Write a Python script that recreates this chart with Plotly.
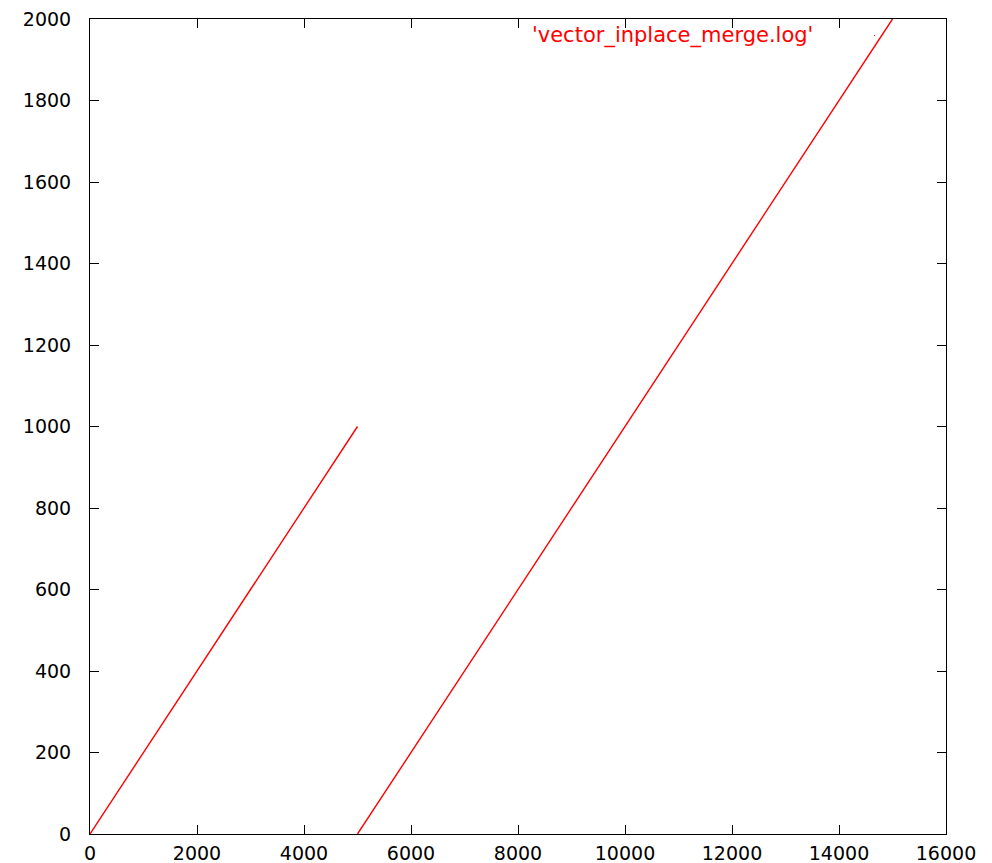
import plotly.graph_objects as go

# data
seg1_x = [0, 5000]
seg1_y = [0, 1000]
seg2_x = [5000, 15000]
seg2_y = [0, 2000]
series_name = "'vector_inplace_merge.log'"
x_ticks = list(range(0, 16001, 2000))
x_tick_labels = [str(v) for v in x_ticks]
y_ticks = list(range(0, 2001, 200))
y_tick_labels = [str(v) for v in y_ticks]

x_vals = seg1_x + [None] + seg2_x
y_vals = seg1_y + [None] + seg2_y

fig = go.Figure()
fig.add_trace(go.Scatter(x=x_vals, y=y_vals, mode="lines", name=series_name,
                         line=dict(color="#ff0000", width=1.4), showlegend=False,
                         connectgaps=False, cliponaxis=False))

font = dict(family="DejaVu Sans", size=19, color="black")
axis_common = dict(showline=True, linecolor="black", linewidth=1, mirror="ticks",
                   ticks="inside", ticklen=9, tickcolor="black", tickwidth=1,
                   showgrid=False, zeroline=False, tickfont=font, automargin=False)

fig.update_layout(
    width=992, height=863,
    margin=dict(l=90, r=46, t=19, b=29),
    paper_bgcolor="white", plot_bgcolor="white",
    xaxis=dict(range=[0, 16000], tickvals=x_ticks, ticktext=x_tick_labels, ticklabelstandoff=2, **axis_common),
    yaxis=dict(range=[0, 2000], tickvals=y_ticks, ticktext=y_tick_labels, ticklabelstandoff=14, **axis_common),
    annotations=[dict(text=series_name, x=(815 - 90) / 856, y=(834 - 36) / 815,
                      xref="paper", yref="paper", xanchor="right", yanchor="middle",
                      showarrow=False, font=dict(family="DejaVu Sans", size=21, color="#ff0000"))],
    shapes=[dict(type="rect", xref="paper", yref="paper",
                 x0=(874 - 90) / 856, x1=(875 - 90) / 856,
                 y0=(834 - 36) / 815, y1=(834 - 35) / 815,
                 line=dict(width=0), fillcolor="#ff0000")],
)

fig.write_html("out.html")
